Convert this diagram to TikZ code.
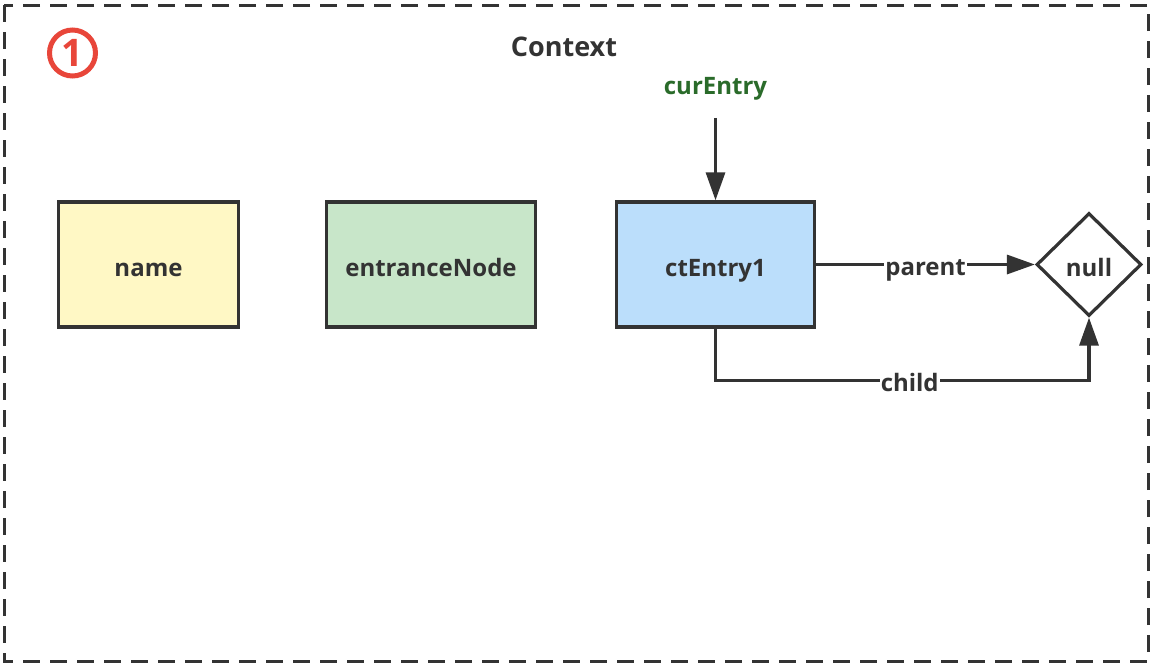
\documentclass[tikz,border=0pt]{standalone}
\usepackage{fontspec}
\setmainfont{Open Sans}
\usetikzlibrary{shapes.geometric,arrows.meta}
\definecolor{ctxline}{HTML}{333333}
\definecolor{ctxred}{HTML}{E8463A}
\definecolor{ctxgreen}{HTML}{2A6B2A}
\definecolor{fillname}{HTML}{FFF8C5}
\definecolor{fillentr}{HTML}{C8E6C9}
\definecolor{fillcur}{HTML}{BBDEFB}
\tikzset{
  ctxfont/.style={font=\fontsize{24}{28}\selectfont\bfseries},
  ctxnode/.style={draw=ctxline, line width=3.4pt, minimum height=125pt, inner sep=0pt,
    text=ctxline, ctxfont, text height=23pt, text depth=0pt},
  ctxarrow/.style={draw=ctxline, line width=3.2pt, -{Triangle[length=28pt,width=19pt]}},
  lbl/.style={fill=white, inner sep=1pt, text=ctxline, ctxfont, text height=22pt, text depth=0pt}
}
\def\ctxbox(#1,#2,#3,#4,#5,#6){
  \node[ctxnode, minimum width=#1, fill=#5] (#6) at (#2,#3) {#4};
}

\begin{document}
\begin{tikzpicture}[x=1pt,y=-1pt]
\useasboundingbox (0,0) rectangle (1153,670);
\draw[ctxline, line width=3pt, dash pattern=on 17pt off 10pt] (4,5) rectangle (1148,661);
\node[draw=ctxred, circle, line width=5pt, minimum size=46pt, inner sep=0pt, text=ctxred,
  font=\fontsize{38}{38}\selectfont\bfseries] (num_one) at (72.5,53) {1};
\node[text=ctxline, font=\fontsize{27}{30}\selectfont\bfseries] (ctx_title) at (564,47) {Context};
\ctxbox(180pt,148.5,264.5,name,fillname,box_name)
\ctxbox(209pt,431,264.5,entranceNode,fillentr,box_entr)
\ctxbox(198pt,715.5,264.5,ctEntry1,fillcur,box_cur)
\node[diamond, draw=ctxline, line width=3.2pt, fill=white, minimum width=105pt, minimum height=103pt,
  inner sep=0pt, text=ctxline, ctxfont, text height=23pt, text depth=0pt] (nd_null) at (1089,264.5) {null};
\node[text=ctxgreen, ctxfont] (cur_lbl) at (715.5,89) {curEntry};
\draw[ctxarrow, shorten <=14pt] (cur_lbl.south) -- (box_cur.north);
\draw[ctxarrow] (box_cur.east) -- node[lbl] {parent} (nd_null.west);
\draw[ctxarrow] (box_cur.south) -- ([yshift=-52pt]box_cur.south) -| node[lbl, pos=0.26] {child} (nd_null.south);
\end{tikzpicture}
\end{document}
